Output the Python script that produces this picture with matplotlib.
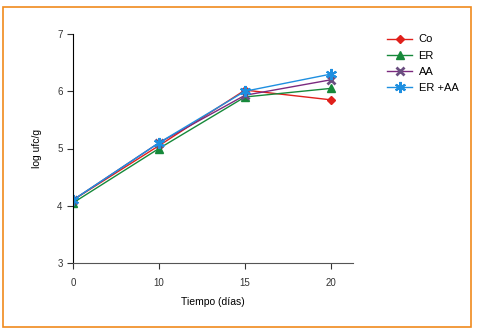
import matplotlib
matplotlib.use("Agg")
import matplotlib.pyplot as plt
from matplotlib.patches import Rectangle

plt.rcParams['font.family'] = ['Liberation Sans Narrow', 'Liberation Sans', 'DejaVu Sans']

days = ["0", "10", "15", "20"]
co = [4.10, 5.05, 6.02, 5.85]
er = [4.05, 5.00, 5.90, 6.05]
aa = [4.10, 5.10, 5.93, 6.20]
er_aa = [4.10, 5.10, 6.00, 6.30]
yticks = [3, 4, 5, 6, 7]

fig = plt.figure(figsize=(4.78, 3.31), dpi=100)
fig.patches.append(Rectangle((3/478, 1-327/331), 468/478, 320/331, transform=fig.transFigure,
                             fill=False, edgecolor='#F08A1C', linewidth=1.2))
ax = fig.add_axes([73/478, 1-263/331, 280/478, 229/331])
x = list(range(len(days)))
l1, = ax.plot(x, co, color='#E0201B', marker='D', markersize=4, lw=1, label='Co')
l2, = ax.plot(x, er, color='#16893A', marker='^', markersize=5.5, lw=1, label='ER')
l3, = ax.plot(x, aa, color='#7B2A7F', marker='x', markersize=6, mew=2, mec='#6A4E80', lw=1, label='AA')
l4, = ax.plot(x, er_aa, color='#1E8FE0', marker=(6, 2, 0), markersize=8, mew=1.5, lw=1, label='ER +AA')

ax.set_xlim(0, 3.256)
ax.set_ylim(3, 7)
ax.set_xticks(x)
ax.set_xticklabels(days)
ax.set_yticks(yticks)
ax.spines['top'].set_visible(False)
ax.spines['right'].set_visible(False)
ax.spines['left'].set_color('black')
ax.spines['bottom'].set_color('#555555')
ax.tick_params(labelsize=7, length=4, width=0.8, colors='#333333')
ax.tick_params(axis='x', pad=7)
ax.set_xlabel('Tiempo (días)', fontsize=7.5, labelpad=6)
ax.set_ylabel('log ufc/g', fontsize=7.5, labelpad=11)

fig.legend(handles=[l1, l2, l3, l4], loc='upper left', bbox_to_anchor=(383/478, 1-30/331),
           frameon=False, fontsize=8, handlelength=2.2, handletextpad=0.6, labelspacing=0.55,
           borderaxespad=0)
fig.savefig('out.png', dpi=100)
